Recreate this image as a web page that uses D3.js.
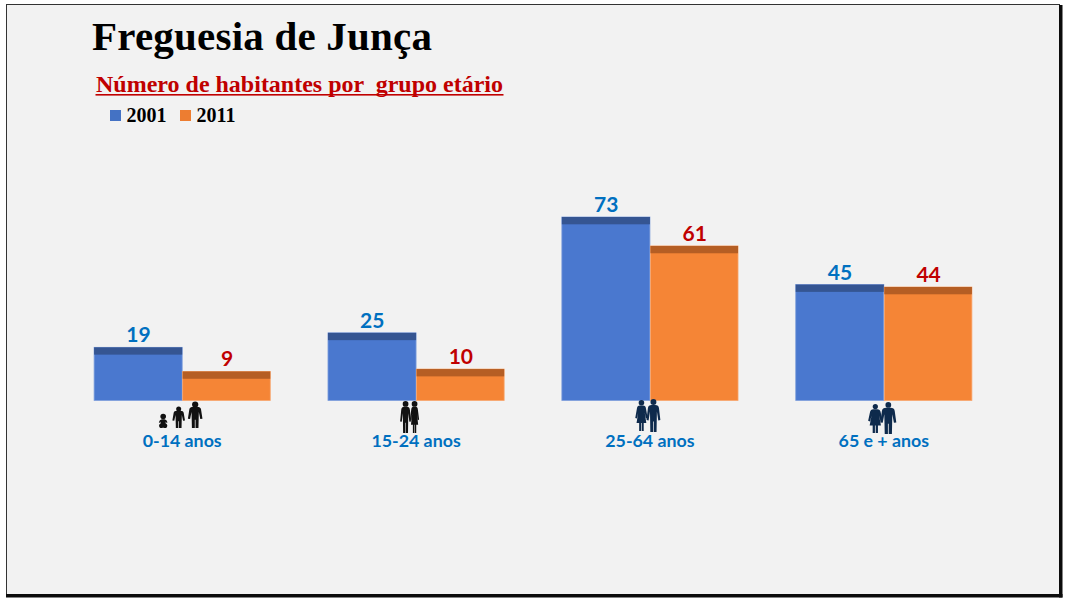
<!DOCTYPE html>
<html><head><meta charset="utf-8">
<script src="https://cdn.jsdelivr.net/npm/d3@7"></script>
<style>html,body{margin:0;padding:0;background:#fff}svg{display:block}</style>
</head><body><svg id="c" width="1070" height="602"></svg>
<script>
const categories = ["0-14 anos","15-24 anos","25-64 anos","65 e + anos"];
const seriesNames = ["2001","2011"];
const values2001 = [19,25,73,45];
const values2011 = [9,10,61,44];
const titleText = "Freguesia de Junça";
const subtitleText = "Número de habitantes por  grupo etário";

const fills = {"2001":"#4a78cf","2011":"#f58536"};
const tops = {"2001":"#355592","2011":"#b55e24"};
const edges = {"2001":"#7f9fdc","2011":"#f8a66e"};
const legendFills = {"2001":"#4472c4","2011":"#ed7d31"};
const labelColors = {"2001":"#0070c0","2011":"#c00000"};
const seriesValues = {"2001":values2001,"2011":values2011};

const svg = d3.select("#c");
const serif = "'Liberation Serif','DejaVu Serif',serif";
const sans = "Lato,'Open Sans',sans-serif";

// frame
svg.append("rect").attr("x",6.5).attr("y",4.5).attr("width",1053).attr("height",590)
  .attr("fill","#f2f2f2").attr("stroke","#333").attr("stroke-width",1);
svg.append("rect").attr("x",1059).attr("y",5).attr("width",3.5).attr("height",592.5).attr("fill","#0c0c0c");
svg.append("rect").attr("x",6).attr("y",594).attr("width",1056.5).attr("height",3.5).attr("fill","#0c0c0c");

// titles
svg.append("text").attr("x",92).attr("y",50).attr("font-family",serif).attr("font-weight",700)
  .attr("font-size",41).attr("fill","#000").attr("textLength",340).attr("lengthAdjust","spacing").text(titleText);
svg.append("text").attr("x",96).attr("y",91.5).attr("font-family",serif).attr("font-weight",700)
  .attr("font-size",24).attr("fill","#c00000").style("white-space","pre")
  .attr("textLength",407).attr("lengthAdjust","spacing").text(subtitleText);
svg.append("rect").attr("x",95.5).attr("y",94).attr("width",408).attr("height",1.6).attr("fill","#c00000");

// legend
const legendX = d3.scaleOrdinal().domain(seriesNames).range([110,180]);
const lg = svg.selectAll("g.lg").data(seriesNames).join("g").attr("class","lg")
  .attr("transform",d=>`translate(${legendX(d)},110)`);
lg.append("rect").attr("width",11).attr("height",11).attr("fill",d=>legendFills[d]);
lg.append("text").attr("x",16.5).attr("y",11.5).attr("font-family",serif).attr("font-weight",700)
  .attr("font-size",20).attr("fill","#000").text(d=>d);

// scales
const x0 = d3.scaleBand().domain(categories).range([93.6,972.4]).paddingInner(0.2425).paddingOuter(0);
const x1 = d3.scaleBand().domain(seriesNames).range([0,x0.bandwidth()]);
const depth = 7.8;
const y = d3.scaleLinear().domain([0,73]).range([400.5-depth,216.5]);

seriesNames.forEach(s=>{
  const data = categories.map((c,i)=>({c,v:seriesValues[s][i]}));
  const g = svg.append("g");
  g.selectAll("rect.body").data(data).join("rect").attr("class","body")
    .attr("x",d=>x0(d.c)+x1(s)+.5).attr("y",d=>y(d.v)+.5)
    .attr("width",x1.bandwidth()-(s==="2001"?.5:1)).attr("height",d=>y(0)+depth-y(d.v)-.5)
    .attr("fill",fills[s]).attr("stroke",edges[s]).attr("stroke-width",.8);
  g.selectAll("rect.top").data(data).join("rect").attr("class","top")
    .attr("x",d=>x0(d.c)+x1(s)+.5).attr("y",d=>y(d.v)+.5)
    .attr("width",x1.bandwidth()-(s==="2001"?.5:1)).attr("height",depth-.5)
    .attr("fill",tops[s]);
  g.selectAll("text").data(data).join("text")
    .attr("x",d=>x0(d.c)+x1(s)+x1.bandwidth()/2+.5).attr("y",d=>y(d.v)-4.5)
    .attr("text-anchor","middle").attr("font-family",sans).attr("font-weight",700)
    .attr("font-size",21).attr("fill",labelColors[s]).text(d=>d.v);
});

// category labels
svg.selectAll("text.cat").data(categories).join("text").attr("class","cat")
  .attr("x",d=>x0(d)+x0.bandwidth()/2).attr("y",447)
  .attr("text-anchor","middle").attr("font-family",sans).attr("font-weight",700)
  .attr("font-size",17.8).attr("fill","#0070c0").text(d=>d);

// pictogram figures, 100-unit tall, origin at feet centre
const manPath = "M-5,-82 Q-15,-82 -16,-72 L-20,-36 L-14,-35 L-10,-62 L-9,0 L-1,0 L-1,-32 L1,-32 L1,0 L9,0 L10,-62 L14,-35 L20,-36 L16,-72 Q15,-82 5,-82Z";
const womanPath = "M-5,-82 Q-13,-82 -14,-72 L-19,-42 L-14,-40 L-10,-60 L-15,-26 L-7,-26 L-7,0 L-1,0 L-1,-26 L1,-26 L1,0 L7,0 L7,-26 L15,-26 L10,-60 L14,-40 L19,-42 L14,-72 Q13,-82 5,-82Z";
const babyPath = "M-8,-62 Q-22,-60 -26,-40 L-18,-38 L-16,-46 L-14,-34 Q-30,-24 -22,-6 Q-14,4 -3,-2 L3,-2 Q14,4 22,-6 Q30,-24 14,-34 L16,-46 L18,-38 L26,-40 Q22,-60 8,-62Z";
function figure(cat,dx,feet,h,wx,path,color,headR,headY){
  const g = svg.append("g").attr("transform",`translate(${x0(cat)+x0.bandwidth()/2+dx},${feet}) scale(${h/100*wx},${h/100})`).attr("fill",color);
  g.append("ellipse").attr("cx",0).attr("cy",headY).attr("rx",headR/wx).attr("ry",headR);
  g.append("path").attr("d",path);
}
const [c0,c1,c2,c3] = categories;
figure(c0,-19,428,14,1.2,babyPath,"#111",20,-82);
figure(c0,-3.5,428,21,1.5,manPath,"#111",12,-90);
figure(c0,13,428,26,1.4,manPath,"#111",12,-90);
figure(c1,-10.5,433,32,.85,manPath,"#111",9,-91);
figure(c1,-1.5,433,32,.75,womanPath,"#111",9,-91);
figure(c2,-8.5,431,31,1.05,womanPath,"#0e2a4c",9,-91);
figure(c2,3.5,432,33,1.05,manPath,"#0e2a4c",9,-91);
figure(c3,-8.5,433,29,1.3,womanPath,"#0e2a4c",9,-91);
figure(c3,4.5,434,32,1.25,manPath,"#0e2a4c",9,-91);
</script></body></html>
